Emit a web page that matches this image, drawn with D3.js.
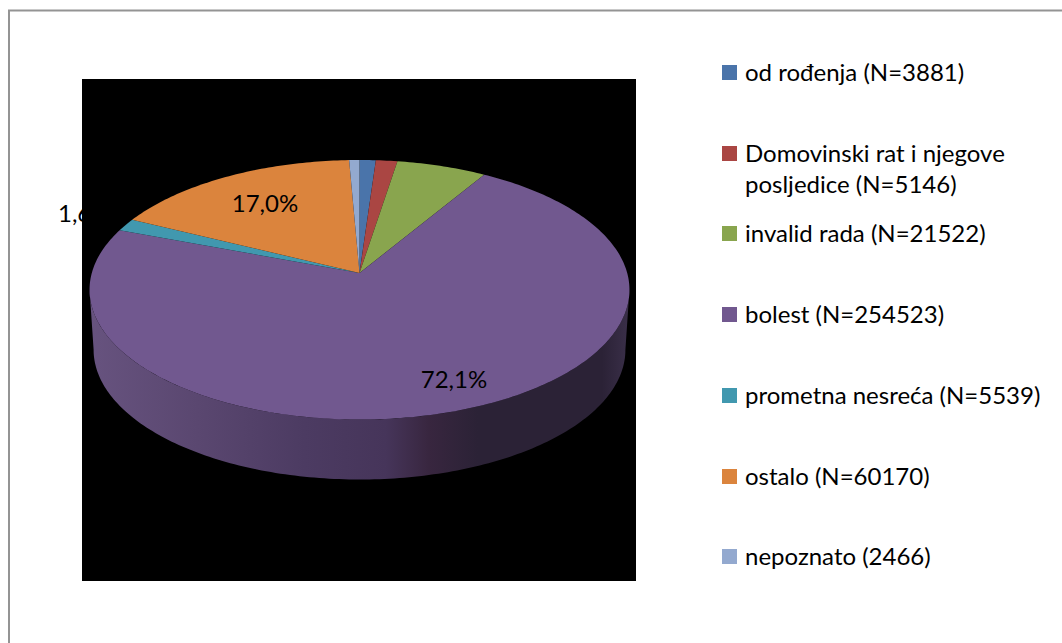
<!DOCTYPE html>
<html><head><meta charset="utf-8">
<script src="https://cdn.jsdelivr.net/npm/d3@7"></script>
<style>html,body{margin:0;padding:0;background:#fff;overflow:hidden}svg{display:block}text{font-family:Lato,"Open Sans",sans-serif;fill:#000}</style>
</head><body><svg id="c" width="1062" height="643"></svg>
<script>
const categories=["od rođenja","Domovinski rat i njegove posljedice","invalid rada","bolest","prometna nesreća","ostalo","nepoznato"];
const counts=[3881,5146,21522,254523,5539,60170,2466];
const legendLines=[["od rođenja (N=3881)"],["Domovinski rat i njegove","posljedice (N=5146)"],["invalid rada (N=21522)"],["bolest (N=254523)"],["prometna nesreća (N=5539)"],["ostalo (N=60170)"],["nepoznato (2466)"]];
const colors=["#4a74aa","#aa4643","#89a54e","#71588f","#4198af","#db843d","#93a9cf"];
const dataLabels=[null,null,null,"72,1%","1,6%","17,0%",null];
const wallStops=[[0,"#67537f"],[0.2,"#5a4770"],[0.4,"#4c3b62"],[0.55,"#46355a"],[0.63,"#38263f"],[0.72,"#2b2236"],[0.95,"#2b2236"],[1,"#3a2f49"]];

const svg=d3.select("#c");
const k=-0.129,a=267.7,b=127.6,ax=359.5,ay=273,depth=60,bottomScale=0.985;
function proj(t,r=1,dy=0,sx=1){
  const u=r*Math.sin(t),v=-r*Math.cos(t),d=1+k*v;
  return [ax+sx*a*u/d, ay+dy+b*v/d];
}
function rim(t0,t1,dy=0,sx=1){
  const n=Math.max(2,Math.ceil((t1-t0)*60)),pts=[];
  for(let i=0;i<=n;i++)pts.push(proj(t0+(t1-t0)*i/n,1,dy,sx));
  return pts;
}
const line=d3.line().curve(d3.curveLinear);
const arcs=d3.pie().sort(null)(counts);

svg.append("path").attr("d","M9,643V10.5H1062").attr("fill","none").attr("stroke","#949494").attr("stroke-width",2);

const lab16=dataLabels.indexOf("1,6%");
svg.append("text").attr("x",58).attr("y",222).attr("font-size",24).text(dataLabels[lab16]);

svg.append("rect").attr("x",82).attr("y",79).attr("width",554).attr("height",502).attr("fill","#000");

const g=svg.append("defs").append("linearGradient").attr("id","wall").attr("gradientUnits","userSpaceOnUse")
  .attr("x1",89).attr("x2",629).attr("y1",0).attr("y2",0);
wallStops.forEach(s=>g.append("stop").attr("offset",s[0]).attr("stop-color",s[1]));

// wall: silhouette between the widest points of the rim
const ts=d3.range(0,2*Math.PI,0.002);
const tR=ts[d3.greatestIndex(ts,t=>proj(t)[0])], tL=ts[d3.leastIndex(ts,t=>proj(t)[0])];
const wall=rim(tR,tL).concat(rim(tR,tL,depth,bottomScale).reverse());
svg.append("path").attr("d",line(wall)+"Z").attr("fill","url(#wall)");

svg.selectAll("path.slice").data(arcs).join("path").attr("class","slice")
  .attr("fill",(d,i)=>colors[i])
  .attr("d",d=>line([[ax,ay]].concat(rim(d.startAngle,d.endAngle)))+"Z");

const labelPos={"72,1%":[454,388],"17,0%":[265,212]};
dataLabels.forEach(t=>{ if(t&&labelPos[t])
  svg.append("text").attr("x",labelPos[t][0]).attr("y",labelPos[t][1]).attr("text-anchor","middle").attr("font-size",24).text(t);});

const rowY=[65,146,226,307,388,469,549];
legendLines.forEach((lines,i)=>{
  svg.append("rect").attr("x",722).attr("y",rowY[i]).attr("width",15).attr("height",15).attr("fill",colors[i]);
  lines.forEach((s,j)=>svg.append("text").attr("x",745).attr("y",rowY[i]+16+j*31).attr("font-size",24).text(s));
});
</script></body></html>
